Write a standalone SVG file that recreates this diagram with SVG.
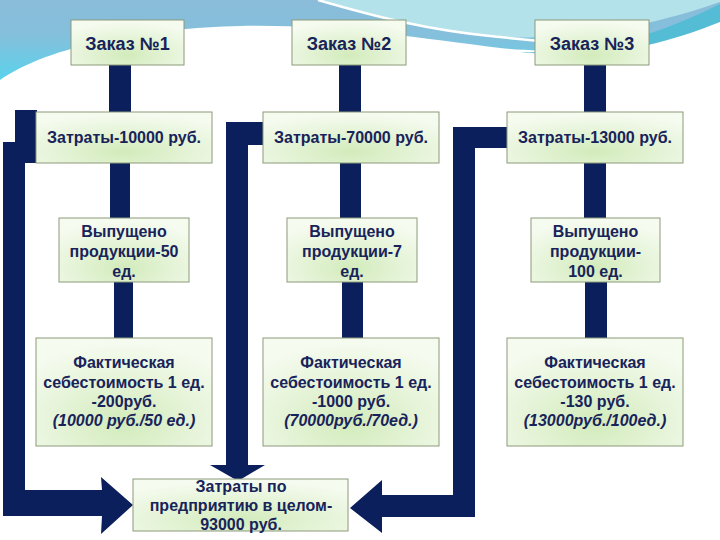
<svg xmlns="http://www.w3.org/2000/svg" width="720" height="540" viewBox="0 0 720 540">
  <defs>
    <linearGradient id="sky" gradientUnits="userSpaceOnUse" x1="0" y1="0" x2="0" y2="80">
      <stop offset="0" stop-color="#8abcd9"/>
      <stop offset="0.45" stop-color="#84c0dc"/>
      <stop offset="1" stop-color="#5ad3ec"/>
    </linearGradient>
    <radialGradient id="boxfill" cx="0.5" cy="0.78" r="0.75">
      <stop offset="0" stop-color="#d2ebbb"/>
      <stop offset="0.6" stop-color="#e8f5dc"/>
      <stop offset="1" stop-color="#f6fbf0"/>
    </radialGradient>
    <style>
      .box { fill: url(#boxfill); stroke: #8c9a7a; stroke-width: 1; }
      .t { font-family: "Liberation Sans", Arial, sans-serif; font-weight: bold; font-size: 16px; fill: #18235a; text-anchor: middle; }
      .big { font-size: 18px; }
      .it { font-style: italic; }
      .conn { fill: #0b1f5c; }
    </style>
  </defs>

  <!-- background -->
  <rect x="0" y="0" width="720" height="540" fill="#ffffff"/>
  <path d="M0,0 H720 V8 C710,12 690,22 660,32 C620,45 560,55 500,48 C420,38 330,24 240,26 C150,28 50,45 0,80 Z" fill="url(#sky)"/>
  <path d="M318,0 C380,18 430,30 490,36 C560,42 640,30 720,2 V0 Z" fill="#b3e2ea"/>
  <path d="M318,0 C380,18 430,30 490,36 C510,38 525,40 545,41" fill="none" stroke="#ffffff" stroke-width="2.5"/>
  <path d="M520,52 C600,54 660,34 720,4 V22 C660,46 600,60 520,52 Z" fill="#55bcd5"/>

  <!-- connectors -->
  <g id="connectors">
    <!-- column 1 -->
    <rect class="conn" x="109" y="64" width="22" height="50"/>
    <rect class="conn" x="110" y="161" width="20" height="59"/>
    <rect class="conn" x="114" y="280" width="19" height="60"/>
    <!-- column 2 -->
    <rect class="conn" x="339" y="64" width="22" height="50"/>
    <rect class="conn" x="340" y="161" width="21" height="59"/>
    <rect class="conn" x="342" y="280" width="21" height="60"/>
    <!-- column 3 -->
    <rect class="conn" x="584" y="64" width="22" height="50"/>
    <rect class="conn" x="584" y="161" width="22" height="59"/>
    <rect class="conn" x="585" y="280" width="22" height="60"/>
    <!-- left loop: Затраты-10000 -> итог -->
    <polygon class="conn" points="15,110 37,110 37,163 25,163 25,490 102,490 101,477 133,505 101,534 102,516 3,516 3,142 15,142"/>
    <!-- middle: Затраты-70000 -> итог -->
    <polygon class="conn" points="226,122 263,122 263,145 248,145 248,465 265,465 238,481 210,465 226,465"/>
    <!-- right: Затраты-13000 -> итог -->
    <polygon class="conn" points="453,127 508,127 508,148 475,148 475,517 382,517 382,533 350,508 382,480 382,495 453,495"/>
  </g>

  <!-- row 1 -->
  <g id="order1">
    <rect class="box" x="71" y="20" width="113" height="45"/>
    <text class="t big" x="127.5" y="50">Заказ №1</text>
  </g>
  <g id="order2">
    <rect class="box" x="292" y="20" width="114" height="45"/>
    <text class="t big" x="349" y="50">Заказ №2</text>
  </g>
  <g id="order3">
    <rect class="box" x="535" y="20" width="114" height="45"/>
    <text class="t big" x="592" y="50">Заказ №3</text>
  </g>

  <!-- row 2 -->
  <g id="cost1">
    <rect class="box" x="36" y="112" width="176" height="51"/>
    <text class="t" x="124" y="143">Затраты-10000 руб.</text>
  </g>
  <g id="cost2">
    <rect class="box" x="263" y="112" width="176" height="51"/>
    <text class="t" x="351" y="143">Затраты-70000 руб.</text>
  </g>
  <g id="cost3">
    <rect class="box" x="507" y="112" width="176" height="51"/>
    <text class="t" x="595" y="143">Затраты-13000 руб.</text>
  </g>

  <!-- row 3 -->
  <g id="output1">
    <rect class="box" x="59" y="218" width="130" height="64"/>
    <text class="t" x="124" y="237">Выпущено</text>
    <text class="t" x="124" y="257">продукции-50</text>
    <text class="t" x="124" y="277">ед.</text>
  </g>
  <g id="output2">
    <rect class="box" x="287" y="218" width="130" height="64"/>
    <text class="t" x="352" y="237">Выпущено</text>
    <text class="t" x="352" y="257">продукции-7</text>
    <text class="t" x="352" y="277">ед.</text>
  </g>
  <g id="output3">
    <rect class="box" x="531" y="218" width="129" height="64"/>
    <text class="t" x="595.5" y="237">Выпущено</text>
    <text class="t" x="595.5" y="257">продукции-</text>
    <text class="t" x="595.5" y="277">100 ед.</text>
  </g>

  <!-- row 4 -->
  <g id="unitcost1">
    <rect class="box" x="36" y="338" width="176" height="108"/>
    <text class="t" x="124" y="368">Фактическая</text>
    <text class="t" x="124" y="388">себестоимость 1 ед.</text>
    <text class="t" x="124" y="407">-200руб.</text>
    <text class="t it" x="124" y="426">(10000 руб./50 ед.)</text>
  </g>
  <g id="unitcost2">
    <rect class="box" x="263" y="338" width="176" height="108"/>
    <text class="t" x="351" y="368">Фактическая</text>
    <text class="t" x="351" y="388">себестоимость 1 ед.</text>
    <text class="t" x="351" y="407">-1000 руб.</text>
    <text class="t it" x="351" y="426">(70000руб./70ед.)</text>
  </g>
  <g id="unitcost3">
    <rect class="box" x="507" y="338" width="176" height="108"/>
    <text class="t" x="595" y="368">Фактическая</text>
    <text class="t" x="595" y="388">себестоимость 1 ед.</text>
    <text class="t" x="595" y="407">-130 руб.</text>
    <text class="t it" x="595" y="426">(13000руб./100ед.)</text>
  </g>

  <!-- total -->
  <g id="total">
    <rect class="box" x="133" y="479" width="215" height="52"/>
    <text class="t" x="241" y="492">Затраты по</text>
    <text class="t" x="241" y="511">предприятию в целом-</text>
    <text class="t" x="241" y="530">93000 руб.</text>
  </g>
</svg>
